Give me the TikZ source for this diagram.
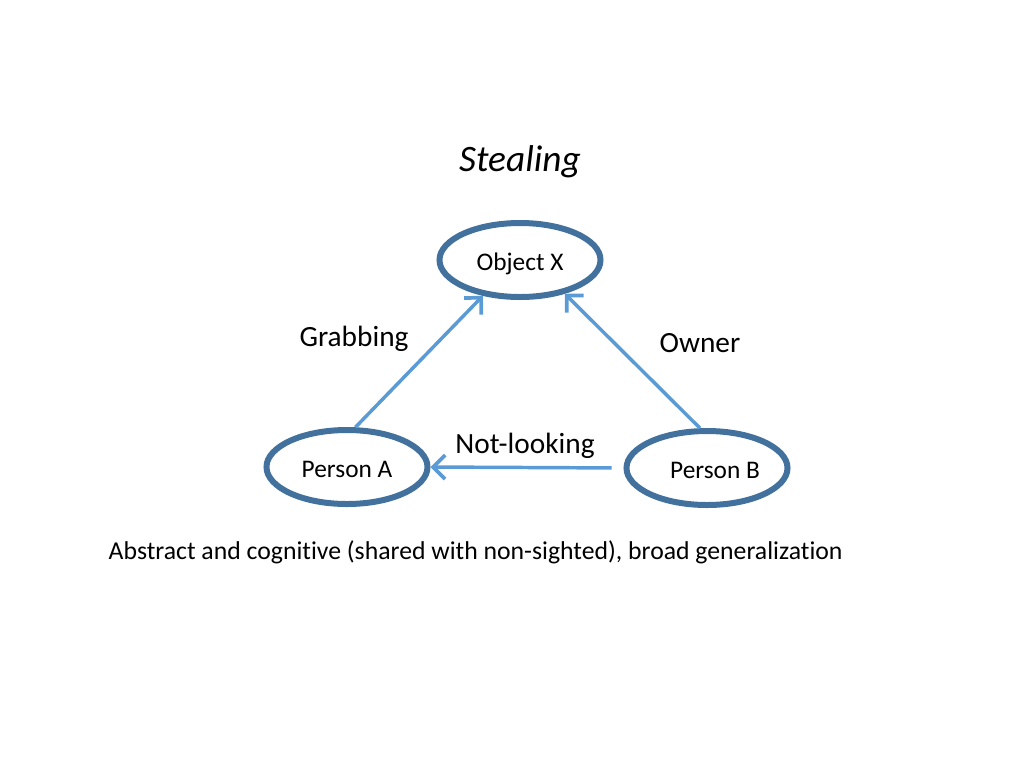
\documentclass[tikz,border=0pt]{standalone}
\usepackage{fontspec}
\setmainfont{Carlito}[Ligatures=NoCommon]
\usetikzlibrary{arrows.meta,shapes.geometric}
\definecolor{ringblue}{HTML}{41719C}
\definecolor{arrowblue}{HTML}{5B9BD5}

\begin{document}
\begin{tikzpicture}[x=0.75pt, y=-0.75pt,
  every node/.style={font=\fontsize{19}{22}\selectfont},
  ring/.style={ellipse, draw=ringblue, line width=4.5pt, minimum width=120.75pt, minimum height=55.5pt, inner sep=0pt, text height=20pt, text depth=3.8pt},
  link/.style={draw=arrowblue, line width=2.6pt, -{Straight Barb[length=9pt, width=18pt, line width=2.8pt]}},
  lbl/.style={font=\fontsize{22}{26}\selectfont}]
\useasboundingbox (0,0) rectangle (1024,768);
\node (title) at (520,162) {\fontsize{28}{32}\selectfont\itshape Stealing};
\node[ring] (X) at (520,260) {Object X};
\node[ring] (A) at (347,467) {Person A};
\node[ring] (B) at (707,468) {\hspace{12pt}Person B};
\draw[link] (A.78) -- (X.224);
\draw[link] (B.100) -- (X.323);
\draw[link, shorten <=9pt] (B.west) -- (A.east);
\node[lbl] (grab) at (354,339) {Grabbing};
\node[lbl] (own) at (700,343) {Owner};
\node[lbl] (look) at (525,446) {Not-looking};
\node[anchor=west] (note) at (104,552) {\fontsize{19.3}{22}\selectfont Abstract and cognitive (shared with non-sighted), broad generalization};
\end{tikzpicture}
\end{document}
